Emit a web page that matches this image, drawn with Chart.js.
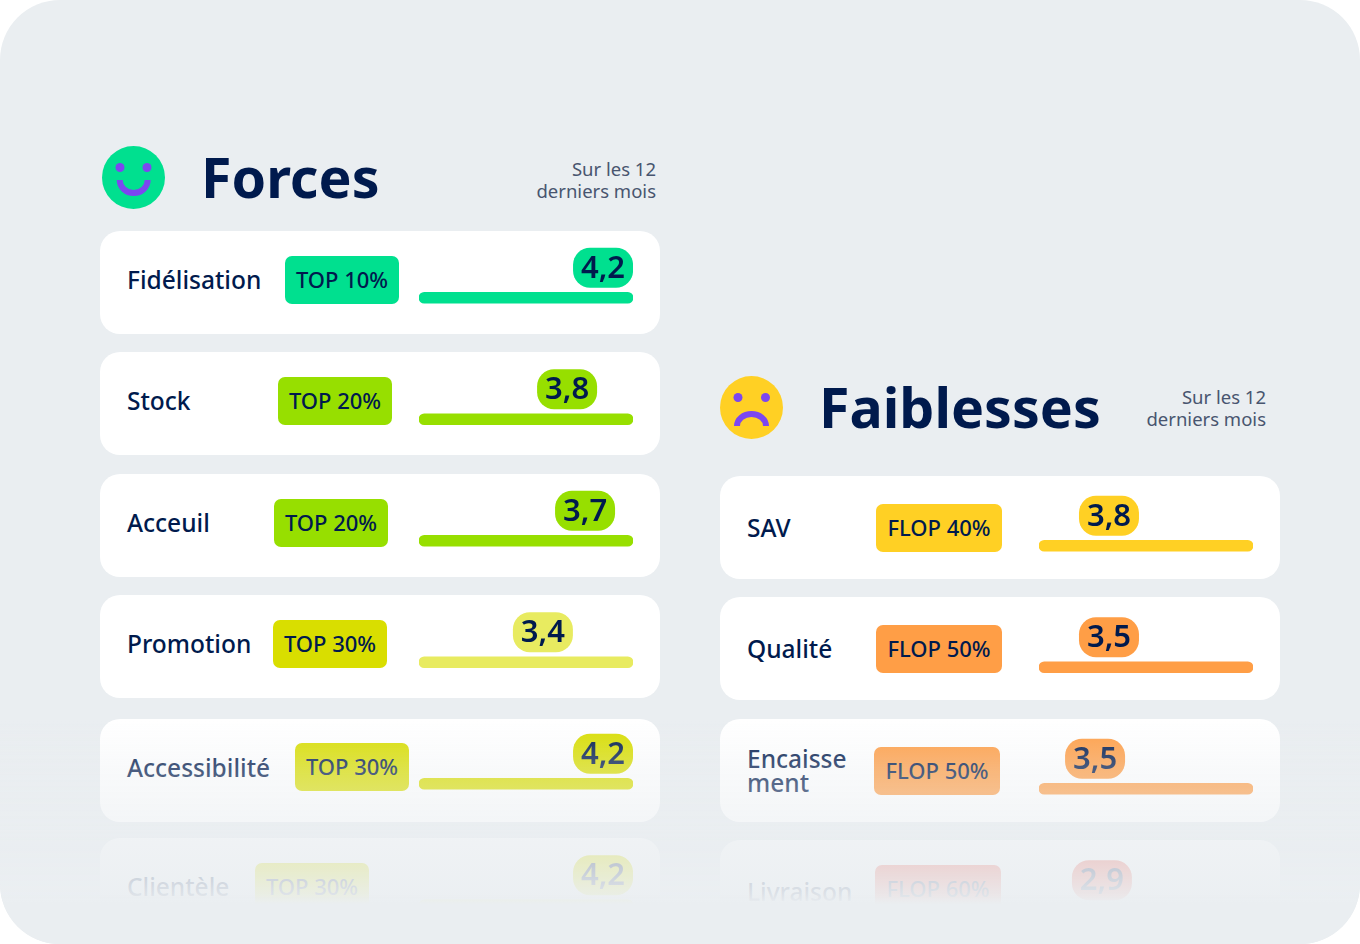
<!DOCTYPE html>
<html lang="fr">
<head>
  <meta charset="UTF-8" />
  <title>Forces et faiblesses</title>
  <script src="https://cdn.jsdelivr.net/npm/chart.js"></script>
  <style>
    html, body { margin: 0; padding: 0; background: #fff; }
    #frame {
      position: relative; width: 1360px; height: 944px; overflow: hidden;
      background: #eaeef1; border-radius: 60px;
      font-family: "Noto Sans", sans-serif; color: #001a4d;
    }
    #frame > * { position: absolute; }
    .card { background: #fff; border-radius: 20px; width: 560px; height: 103px; }
    .label { font-size: 24.5px; font-weight: 500; line-height: 24px; white-space: pre-line; transform: translateY(-50%); }
    .badge { height: 48px; line-height: 47px; border-radius: 7px; text-align: center; font-size: 22px; font-weight: 500; }
    .title { font-size: 55.5px; font-weight: 700; line-height: 60px; }
    .note { font-size: 18.5px; line-height: 22px; color: #48556f; text-align: right; width: 130px; white-space: pre-line; }
    #fade {
      left: 0; top: 700px; width: 1360px; height: 244px; pointer-events: none;
      background: linear-gradient(to bottom,
        rgba(234,238,241,0) 19px, rgba(234,238,241,.3) 68px, rgba(234,238,241,.55) 122px,
        rgba(234,238,241,.72) 138px, rgba(234,238,241,.95) 195px, rgba(234,238,241,1) 204px);
    }
  </style>
</head>
<body>
  <div id="frame">
    <svg style="left:102px;top:146px" width="63" height="63" viewBox="0 0 63 63">
      <circle cx="31.5" cy="31.5" r="31.5" fill="#00e08f"/>
      <circle cx="18" cy="21.5" r="4.5" fill="#7c46f0"/><circle cx="45" cy="21.5" r="4.5" fill="#7c46f0"/>
      <path d="M17.7 34 a14 13 0 0 0 28 0" fill="none" stroke="#7c46f0" stroke-width="6"/>
    </svg>
    <svg style="left:720px;top:376px" width="63" height="63" viewBox="0 0 63 63">
      <circle cx="31.5" cy="31.5" r="31.5" fill="#ffd024"/>
      <circle cx="18" cy="21.5" r="4.5" fill="#7c46f0"/><circle cx="45.5" cy="21.5" r="4.5" fill="#7c46f0"/>
      <path d="M17 50 a14.5 12 0 0 1 29 0" fill="none" stroke="#7c46f0" stroke-width="6"/>
    </svg>
    <div class="title" style="left:201px;top:147px">Forces</div>
    <div class="title" style="left:819px;top:377px">Faiblesses</div>
    <div class="note" style="left:526px;top:158px">Sur les 12
derniers mois</div>
    <div class="note" style="left:1136px;top:386px">Sur les 12
derniers mois</div>
    <canvas id="forcesChart" style="left:419px;top:237px;z-index:2"></canvas>
    <canvas id="faiblessesChart" style="left:1039px;top:485px;z-index:2"></canvas>
    <div id="fade" style="z-index:3"></div>
  </div>

  <script>
    // Forces
    const forcesLabels = ['Fidélisation', 'Stock', 'Acceuil', 'Promotion', 'Accessibilité', 'Clientèle'];
    const forcesBadges = ['TOP 10%', 'TOP 20%', 'TOP 20%', 'TOP 30%', 'TOP 30%', 'TOP 30%'];
    const forcesScores = ['4,2', '3,8', '3,7', '3,4', '4,2', '4,2'];
    const forcesFill = [100, 100, 100, 100, 100, 100];
    const forcesMarker = [86, 69.2, 77.6, 57.9, 86, 86];
    const forcesBadgeColors = ['#00e08f', '#97df00', '#97df00', '#d9de00', '#d9de00', '#d9de00'];
    const forcesBarColors = ['#00e08f', '#97df00', '#97df00', '#e8eb60', '#d9de00', '#d9de00'];

    // Faiblesses
    const faiblessesLabels = ['SAV', 'Qualité', 'Encaisse\nment', 'Livraison'];
    const faiblessesBadges = ['FLOP 40%', 'FLOP 50%', 'FLOP 50%', 'FLOP 60%'];
    const faiblessesScores = ['3,8', '3,5', '3,5', '2,9'];
    const faiblessesFill = [100, 100, 100, 100];
    const faiblessesMarker = [32.7, 32.7, 26.2, 29.4];
    const faiblessesColors = ['#ffd024', '#ff9e46', '#ff9e46', '#ef5a4a'];

    const frame = document.getElementById('frame');
    const ROW_STEP = 121.5;

    function addDiv(cls, text, style) {
      const d = document.createElement('div');
      d.className = cls;
      d.textContent = text;
      Object.assign(d.style, style);
      frame.appendChild(d);
    }

    // row furniture: card, name and rank badge
    function addRows(o) {
      o.labels.forEach((label, i) => {
        const top = o.cardTops[i];
        addDiv('card', '', { left: o.cardX + 'px', top: top + 'px' });
        addDiv('label', label, { left: o.cardX + 27 + 'px', top: top + o.labelDrop + 'px', zIndex: 1 });
        addDiv('badge', o.badges[i], {
          left: o.badgeX[i] + 'px', top: o.badgeY[i] + 'px', width: o.badgeW + 'px',
          background: o.badgeColors[i], zIndex: 1
        });
      });
    }

    addRows({
      labels: forcesLabels, badges: forcesBadges, badgeColors: forcesBadgeColors, cardX: 100, labelDrop: 49,
      cardTops: [231, 352, 474, 595, 719, 838],
      badgeX: [285, 278, 274, 273, 295, 255], badgeY: [256, 377, 499, 620, 743, 863], badgeW: 114
    });
    addRows({
      labels: faiblessesLabels, badges: faiblessesBadges, badgeColors: faiblessesColors, cardX: 720, labelDrop: 52,
      cardTops: [476, 597, 719, 840],
      badgeX: [876, 876, 874, 875], badgeY: [504, 625, 747, 865], badgeW: 126
    });

    // score pill sitting above each bar, placed through the chart's scales
    const scorePills = {
      id: 'scorePills',
      afterDatasetsDraw(chart, args, opts) {
        const { ctx, scales } = chart;
        opts.markers.forEach((m, i) => {
          const x = scales.x.getPixelForValue(m);
          const y = scales.y.getPixelForValue(i) - 30;
          ctx.save();
          ctx.fillStyle = opts.colors[i];
          ctx.beginPath();
          ctx.roundRect(x - 30, y - 20, 60, 40, 17);
          ctx.fill();
          ctx.fillStyle = '#001a4d';
          ctx.font = '600 31px "Noto Sans"';
          ctx.textAlign = 'center';
          ctx.textBaseline = 'middle';
          ctx.fillText(opts.scores[i], x, y + 1);
          ctx.restore();
        });
      }
    };

    function makeChart(id, labels, fill, colors, pillColors, markers, scores) {
      const canvas = document.getElementById(id);
      canvas.width = 214;
      canvas.height = Math.round(labels.length * ROW_STEP);
      return new Chart(canvas, {
        type: 'bar',
        data: {
          labels: labels,
          datasets: [{ data: fill, backgroundColor: colors, barThickness: 11, borderRadius: 5.5, borderSkipped: false }]
        },
        options: {
          indexAxis: 'y',
          responsive: false,
          animation: false,
          layout: { padding: 0 },
          scales: {
            x: { display: false, min: 0, max: 100 },
            y: { display: false }
          },
          plugins: {
            legend: { display: false },
            tooltip: { enabled: false },
            scorePills: { markers: markers, scores: scores, colors: pillColors }
          }
        },
        plugins: [scorePills]
      });
    }

    makeChart('forcesChart', forcesLabels, forcesFill, forcesBarColors, forcesBarColors, forcesMarker, forcesScores);
    makeChart('faiblessesChart', faiblessesLabels, faiblessesFill, faiblessesColors, faiblessesColors, faiblessesMarker, faiblessesScores);
  </script>
</body>
</html>
